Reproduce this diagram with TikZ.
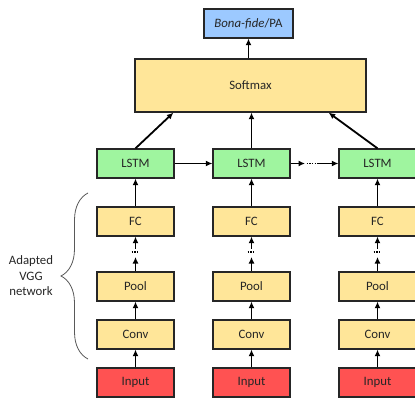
\documentclass[tikz,border=0pt]{standalone}
\usepackage{fontspec}
\setmainfont{Carlito}
\usetikzlibrary{
  arrows.meta,
  calc,
  decorations.pathreplacing,
  positioning
}
\definecolor{layeryellow}{HTML}{FFE699}
\definecolor{lstmgreen}{HTML}{9FF59F}
\definecolor{inputred}{HTML}{FF5252}
\definecolor{outblue}{HTML}{9CC9FF}
\definecolor{edgegray}{HTML}{262626}
\tikzset{
  % Common look of all boxes.
  block/.style={
    draw=edgegray,
    line width=1.3pt,
    minimum width=77pt,
    minimum height=29pt,
    inner sep=0pt,
    text=edgegray,
    font=\fontsize{12.8}{15}\selectfont},
%
  % Layers of the VGG part.
  vgg layer/.style={
    block,
    fill=layeryellow},
%
  % Recurrent cells.
  lstm cell/.style={
    block,
    fill=lstmgreen},
%
  % Frames at the bottom.
  input frame/.style={
    block,
    fill=inputred},
%
  % Connectors.
  flow/.style={
    line width=1.8pt,
    -{Latex[length=6.5pt,width=6pt]}},
%
  % For skipped layers.
  gap dots/.style={
    line width=1.3pt,
    dash pattern=on 1.3pt off 1.4pt},
%
  % For the brace round the VGG part.
  group brace/.style={
    draw=black!65,
    line width=0.8pt,
    decorate,
    decoration={brace, amplitude=27pt}},
}

\begin{document}
\begin{tikzpicture}[x=1pt, y=-1pt]
  \useasboundingbox (0,0) rectangle (415,398);

  \node[block, fill=outblue, minimum width=89pt] (out) at (248.5,23.5)
    {\textit{Bona-fide}/PA};
  \node[vgg layer, minimum width=231pt, minimum height=53pt] (sm) at (250.5,85.5)
    {Softmax};

  \node[lstm cell] (lstmA) at (135.5,163.5) {LSTM};
  \node[lstm cell] (lstmB) at (251.5,163.5) {LSTM};
  \node[lstm cell] (lstmC) at (377.5,163.5) {LSTM};

  \node[vgg layer] (fcA) at (135.5,221.5) {FC};
  \node[vgg layer] (fcB) at (251.5,221.5) {FC};
  \node[vgg layer] (fcC) at (377.5,221.5) {FC};

  \node[vgg layer] (poolA) at (135.5,286.5) {Pool};
  \node[vgg layer] (poolB) at (251.5,286.5) {Pool};
  \node[vgg layer] (poolC) at (377.5,286.5) {Pool};

  \node[vgg layer] (convA) at (135.5,334.5) {Conv};
  \node[vgg layer] (convB) at (251.5,334.5) {Conv};
  \node[vgg layer] (convC) at (377.5,334.5) {Conv};

  \node[input frame] (inA) at (135.5,382.5) {Input};
  \node[input frame] (inB) at (251.5,382.5) {Input};
  \node[input frame] (inC) at (377.5,382.5) {Input};

  \node[align=center, text=edgegray, font=\fontsize{12.8}{15.5}\selectfont] (vgg)
    at (31,276) {Adapted\\VGG\\network};

  % Ends of the broken connectors.
  \coordinate (gapA) at (135.5,257);
  \coordinate (gapB) at (251.5,257);
  \coordinate (gapC) at (377.5,257);
  \coordinate (skipB) at (305,163.5);
  \coordinate (skipC) at (318,163.5);

  \draw[flow] (inA) -- (convA);
  \draw[flow] (inB) -- (convB);
  \draw[flow] (inC) -- (convC);
  \draw[flow] (convA) -- (poolA);
  \draw[flow] (convB) -- (poolB);
  \draw[flow] (convC) -- (poolC);

  \draw[flow] (poolA) -- (gapA);
  \draw[flow] (poolB) -- (gapB);
  \draw[flow] (poolC) -- (gapC);
  \draw[flow] ($(gapA)+(0,-8)$) -- (fcA);
  \draw[flow] ($(gapB)+(0,-8)$) -- (fcB);
  \draw[flow] ($(gapC)+(0,-8)$) -- (fcC);
  \draw[gap dots] ($(gapA)+(-4,-5)$) -- ++(8,0);
  \draw[gap dots] ($(gapB)+(-4,-5)$) -- ++(8,0);
  \draw[gap dots] ($(gapC)+(-4,-5)$) -- ++(8,0);

  \draw[flow] (fcA) -- (lstmA);
  \draw[flow] (fcB) -- (lstmB);
  \draw[flow] (fcC) -- (lstmC);

  \draw[flow] (lstmA) -- (lstmB);
  \draw[flow] (lstmB) -- (skipB);
  \draw[gap dots] ($(skipB)+(1.5,0)$) -- (skipC);
  \draw[flow] (skipC) -- (lstmC);

  \draw[flow] (lstmA.north) -- ([xshift=39pt]sm.south west);
  \draw[flow] (lstmB.north) -- (lstmB.north |- sm.south);
  \draw[flow] (lstmC.north) -- ([xshift=-38pt]sm.south east);
  \draw[flow] (out.south |- sm.north) -- (out);

  % Brace goes upward so that its tip points to the text.
  \draw[group brace] (88,359) -- (88,193);
\end{tikzpicture}
\end{document}
